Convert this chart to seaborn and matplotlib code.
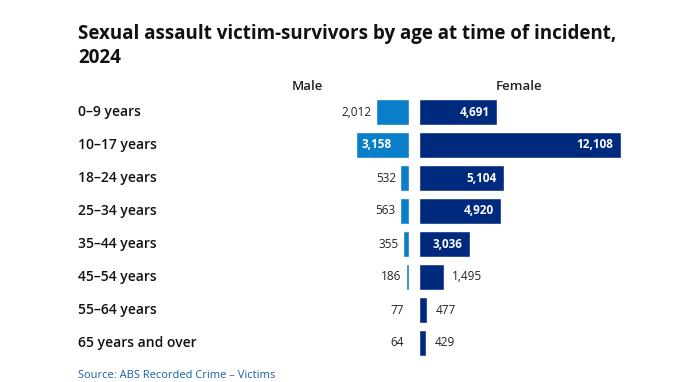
import matplotlib
matplotlib.use('Agg')
import matplotlib.pyplot as plt
import matplotlib.transforms as mtransforms
import seaborn as sns
import pandas as pd

age_groups = ['0–9 years', '10–17 years', '18–24 years', '25–34 years',
              '35–44 years', '45–54 years', '55–64 years', '65 years and over']
male = [2012, 3158, 532, 563, 355, 186, 77, 64]
female = [4691, 12108, 5104, 4920, 3036, 1495, 477, 429]

male_color = '#0A7EC8'
female_color = '#002A7E'

df = pd.DataFrame({'Age': age_groups, 'Male': male, 'Female': female})

sns.set_style('white')
plt.rcParams['font.family'] = ['Open Sans', 'DejaVu Sans']

fig = plt.figure(figsize=(6.89, 3.82), dpi=100)
ax_m = fig.add_axes([300 / 689, 22.5 / 382, 109 / 689, 264 / 382])
ax_f = fig.add_axes([419 / 689, 22.5 / 382, 241 / 689, 264 / 382])

sns.barplot(data=df, x='Male', y='Age', orient='h', color=male_color,
            width=0.79, ax=ax_m, saturation=1)
sns.barplot(data=df, x='Female', y='Age', orient='h', color=female_color,
            width=0.79, ax=ax_f, saturation=1)

ax_m.set_xlim(6547, 0)
ax_f.set_xlim(0, 14475)
for ax in (ax_m, ax_f):
    ax.set_ylim(7.5, -0.5)
    ax.set_xlabel('')
    ax.set_ylabel('')
    ax.set_xticks([])
    ax.set_yticks([])
    sns.despine(ax=ax, left=True, bottom=True)
    ax.patch.set_alpha(0)

# value labels
for i, v in enumerate(male):
    if v > 3000:
        ax_m.text(v - 300, i, f'{v:,}', va='center', ha='left', color='white',
                  fontsize=8.5, fontweight='bold')
    else:
        ax_m.text(v + 250, i, f'{v:,}', va='center', ha='right', color='#222222',
                  fontsize=8.5)
for i, v in enumerate(female):
    if v > 2500:
        ax_f.text(v - 450, i, f'{v:,}', va='center', ha='right', color='white',
                  fontsize=8.5, fontweight='bold')
    else:
        ax_f.text(v + 500, i, f'{v:,}', va='center', ha='left', color='#222222',
                  fontsize=8.5)

# category labels
trans = mtransforms.blended_transform_factory(fig.transFigure, ax_m.transData)
for i, name in enumerate(age_groups):
    fig.text(78 / 689, i, name, transform=trans, va='center', ha='left',
             fontsize=10, fontweight='semibold', color='#111111')

fig.text(307 / 689, 1 - 86 / 382, 'Male', ha='center', va='center',
         fontsize=9.5, fontweight='semibold', color='#222222')
fig.text(519 / 689, 1 - 86 / 382, 'Female', ha='center', va='center',
         fontsize=9.5, fontweight='semibold', color='#222222')

fig.text(78 / 689, 1 - 46 / 382,
         'Sexual assault victim-survivors by age at time of incident,\n2024',
         ha='left', va='center', fontsize=13.5, fontweight='bold',
         color='#111111', linespacing=1.3)

fig.text(78 / 689, 1 / 382, 'Source: ABS Recorded Crime – Victims',
         ha='left', va='bottom', fontsize=8, color='#1a5fa8')

fig.savefig('out.png', dpi=100)
